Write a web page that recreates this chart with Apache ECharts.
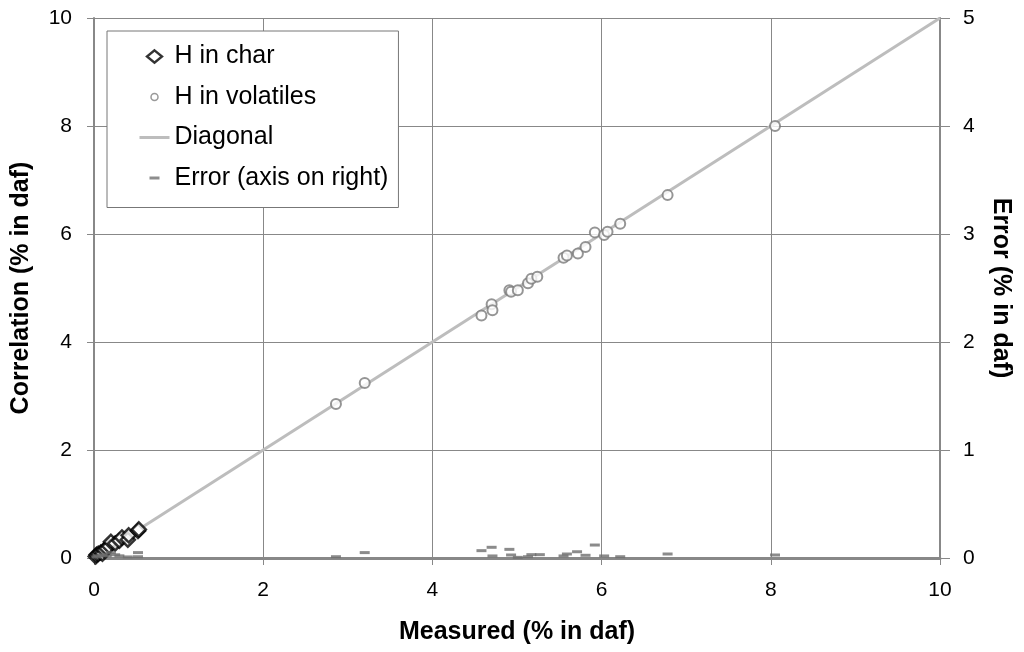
<!DOCTYPE html>
<html><head><meta charset="utf-8">
<script src="https://cdn.jsdelivr.net/npm/echarts@6/dist/echarts.min.js"></script>
<style>html,body{margin:0;padding:0;background:#fff}#c{width:1024px;height:652px}</style>
</head><body><div id="c"></div>
<script>
// H in char: [measured, correlation]
const charPoints = [
  [0.02,0.03],[0.03,0.06],[0.05,0.08],[0.08,0.10],[0.10,0.08],[0.12,0.15],
  [0.15,0.18],[0.18,0.22],[0.20,0.30],[0.25,0.27],[0.30,0.32],[0.33,0.38],
  [0.40,0.34],[0.41,0.42],[0.52,0.50],[0.53,0.53]
];
// H in volatiles: [measured, correlation]
const volPoints = [
  [2.86,2.85],[3.20,3.24],[4.58,4.49],[4.70,4.70],[4.71,4.59],[4.91,4.96],
  [4.93,4.93],[5.01,4.96],[5.13,5.09],[5.17,5.17],[5.24,5.21],[5.55,5.56],
  [5.59,5.60],[5.72,5.64],[5.81,5.76],[5.92,6.03],[6.03,5.98],[6.07,6.04],
  [6.22,6.19],[6.78,6.72],[8.05,8.00]
];
// Diagonal
const diagonal = [[0,0],[10,10]];
// Error (right axis): [measured, error]
const errPoints = [
  [0.03,0.01],[0.05,0.02],[0.10,0.03],[0.15,0.02],[0.20,0.05],[0.25,0.03],
  [0.30,0.02],[0.40,0.01],[0.52,0.05],[0.52,0.012],
  [2.86,0.012],[3.20,0.05],[4.58,0.068],[4.70,0.099],[4.71,0.019],[4.91,0.08],
  [4.93,0.028],[5.01,0.006],[5.13,0.012],[5.17,0.031],[5.27,0.031],[5.55,0.019],
  [5.59,0.037],[5.71,0.058],[5.81,0.025],[5.92,0.12],[6.03,0.019],[6.22,0.012],
  [6.78,0.037],[8.05,0.028]
];
const xTicks = [0,2,4,6,8,10];
const yLeftTicks = [0,2,4,6,8,10];
const yRightTicks = [0,1,2,3,4,5];

const FONT = '"Liberation Sans", Arial, sans-serif';
// legend icon paths in a 30x14 box (corner points keep the box size)
const BOX = 'M0,0 L0,0 M30,14 L30,14 ';
const ICON_DIAMOND = 'path://' + BOX + 'M15,0.8 L22.5,7 L15,13.2 L7.5,7 Z';
const ICON_CIRCLE = 'path://' + BOX + 'M11.5,7 A3.5,3.5 0 1,0 18.5,7 A3.5,3.5 0 1,0 11.5,7 Z';
const ICON_LINE = 'path://' + BOX + 'M0,7 L30,7';
const ICON_DASH = 'path://' + BOX + 'M10,5.5 L20,5.5 L20,8.5 L10,8.5 Z';

const chart = echarts.init(document.getElementById('c'), null, {renderer:'canvas'});
chart.setOption({
  animation:false,
  textStyle:{fontFamily:FONT},
  grid:{left:94,right:84,top:18,bottom:94,containLabel:false},
  legend:{
    orient:'vertical', left:107, top:31,
    padding:[13,10,17,30], itemGap:15.5,
    backgroundColor:'#fff', borderColor:'#777', borderWidth:1,
    itemWidth:30, itemHeight:14, symbolKeepAspect:true,
    textStyle:{fontFamily:FONT,fontSize:25,color:'#000',width:221},
    data:[
      {name:'H in char', icon:ICON_DIAMOND, itemStyle:{color:'#fff',borderColor:'#000',borderWidth:2.4}},
      {name:'H in volatiles', icon:ICON_CIRCLE, itemStyle:{color:'#fff',borderColor:'#808080',borderWidth:1.5}},
      {name:'Diagonal', icon:ICON_LINE, itemStyle:{color:'none',borderColor:'#bdbdbd',borderWidth:3}},
      {name:'Error (axis on right)', icon:ICON_DASH, itemStyle:{color:'#707070',borderWidth:0}}
    ]
  },
  xAxis:{
    type:'value', min:0, max:10, interval:2,
    name:'Measured (% in daf)', nameLocation:'middle', nameGap:62,
    nameTextStyle:{fontFamily:FONT,fontSize:25,fontWeight:'bold',color:'#000'},
    axisLine:{show:true,onZero:false,lineStyle:{color:'#888',width:3}},
    axisTick:{show:true,length:7,inside:false,lineStyle:{color:'#888'}},
    axisLabel:{fontFamily:FONT,fontSize:21,color:'#000',margin:22,
      formatter:v=>xTicks.includes(v)?String(v):''},
    splitLine:{show:true,lineStyle:{color:'#888',width:1}}
  },
  yAxis:[{
    type:'value', min:0, max:10, interval:2, position:'left',
    name:'Correlation (% in daf)', nameLocation:'middle', nameGap:60,
    nameTextStyle:{fontFamily:FONT,fontSize:25,fontWeight:'bold',color:'#000'},
    axisLine:{show:true,lineStyle:{color:'#888',width:2}},
    axisTick:{show:true,length:7,lineStyle:{color:'#888'}},
    axisLabel:{fontFamily:FONT,fontSize:21,color:'#000',margin:22,
      formatter:v=>yLeftTicks.includes(v)?String(v):''},
    splitLine:{show:true,lineStyle:{color:'#888',width:1}}
  },{
    type:'value', min:0, max:5, interval:1, position:'right',
    name:'Error (% in daf)', nameLocation:'middle', nameGap:48, nameRotate:-90,
    nameTextStyle:{fontFamily:FONT,fontSize:25,fontWeight:'bold',color:'#000'},
    axisLine:{show:true,lineStyle:{color:'#888',width:2}},
    axisTick:{show:true,length:10,lineStyle:{color:'#888'}},
    axisLabel:{fontFamily:FONT,fontSize:21,color:'#000',margin:23,
      formatter:v=>yRightTicks.includes(v)?String(v):''},
    splitLine:{show:false}
  }],
  series:[
    {name:'Diagonal', type:'line', data:diagonal, yAxisIndex:0, symbol:'none',
      lineStyle:{color:'#bdbdbd',width:3}, itemStyle:{color:'#bdbdbd'}, z:2},
    {name:'H in volatiles', type:'scatter', data:volPoints, yAxisIndex:0,
      symbol:'circle', symbolSize:10,
      itemStyle:{color:'#fff',borderColor:'#7a7a7a',borderWidth:2}, z:4},
    {name:'Error (axis on right)', type:'scatter', data:errPoints, yAxisIndex:1,
      symbol:'rect', symbolSize:[10,3], itemStyle:{color:'#6e6e6e'}, z:5},
    {name:'H in char', type:'scatter', data:charPoints, yAxisIndex:0,
      symbol:'diamond', symbolSize:14,
      itemStyle:{color:'#fff',borderColor:'#000',borderWidth:2.5}, z:3}
  ]
});
</script></body></html>
